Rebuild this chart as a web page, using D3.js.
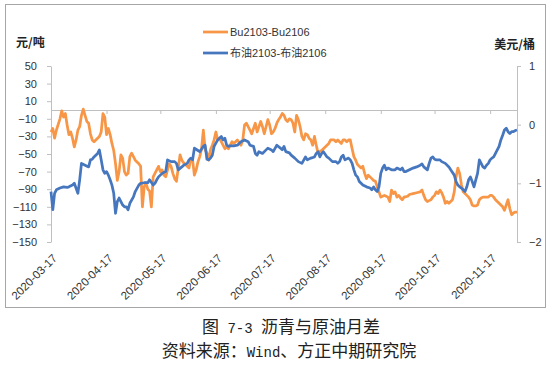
<!DOCTYPE html>
<html>
<head>
<meta charset="utf-8">
<script src="https://cdn.jsdelivr.net/npm/d3@7"></script>
<style>
  body { margin: 0; background: #fff; }
  svg { display: block; }
</style>
</head>
<body>
<div id="chart"></div>
<script>
// Bu2103-Bu2106 (元/吨), left axis
const bitumenDates = [
  '03-17','03-18','03-19','03-20','03-22','03-23','03-24','03-25','03-26','03-27','03-28','03-29','03-30','03-31',
  '04-01','04-02','04-03','04-04','04-05','04-06','04-07','04-08','04-09','04-10','04-11','04-12','04-13','04-14','04-15',
  '04-16','04-17','04-18','04-19','04-20','04-21','04-22','04-23','04-24','04-25','04-26','04-27','04-28','04-29','04-30',
  '05-01','05-02','05-03','05-04','05-05','05-06','05-07','05-08','05-09','05-10','05-11','05-12','05-13','05-14','05-15',
  '05-16','05-17','05-18','05-19','05-20','05-21','05-22','05-23','05-24','05-25','05-26','05-27','05-28','05-29','05-30','05-31',
  '06-01','06-02','06-03','06-04','06-05','06-06','06-07','06-08','06-09','06-10','06-11','06-12','06-13','06-14','06-15',
  '06-16','06-17','06-18','06-19','06-20','06-21','06-22','06-23','06-24','06-25','06-26','06-27','06-28','06-29','06-30',
  '07-01','07-02','07-03','07-04','07-05','07-06','07-07','07-08','07-09','07-10','07-11','07-12','07-13','07-14','07-15',
  '07-16','07-17','07-18','07-19','07-20','07-21','07-22','07-23','07-24','07-25','07-26','07-27','07-28','07-29','07-30','07-31',
  '08-01','08-02','08-03','08-04','08-05','08-06','08-07','08-08','08-09','08-10','08-11','08-12','08-13','08-14','08-15',
  '08-16','08-17','08-19','08-20','08-22','08-23','08-24','08-25','08-26','08-27','08-28','08-29','08-30','08-31',
  '09-01','09-02','09-03','09-04','09-05','09-06','09-07','09-08','09-09','09-10','09-11','09-12','09-13','09-14','09-15',
  '09-16','09-17','09-18','09-19','09-20','09-21','09-22','09-23','09-24','09-25','09-26','09-27','09-28','09-29','09-30',
  '10-02','10-03','10-05','10-07','10-09','10-10','10-11','10-12','10-13','10-14','10-15',
  '10-16','10-17','10-18','10-19','10-20','10-21','10-22','10-23','10-24','10-25','10-26','10-27','10-28','10-29','10-30','10-31',
  '11-01','11-02','11-03','11-04','11-05','11-06','11-07','11-08','11-09','11-10','11-11','11-12','11-13','11-14',
  '11-16','11-17','11-18','11-19','11-20','11-21','11-22','11-23','11-24','11-25','11-26','11-27','11-28','11-29','11-30',
  '12-01','12-02'
];
const bitumenSpread = [
  -25,-21,-32,-23,-10,-1,-8,-4,-17,-28,-25,-32,-42,-34,
  -23,-19,-6,1,-6,-13,-15,-27,-34,-36,-34,-32,-30,-25,-4,
  -8,-28,-21,-28,-38,-46,-61,-80,-70,-51,-55,-70,-74,-72,-53,
  -49,-53,-57,-59,-61,-64,-110,-87,-83,-90,-92,-110,-76,-72,-68,
  -64,-70,-68,-74,-76,-68,-61,-64,-72,-78,-81,-66,-51,-57,-60,-62,
  -64,-66,-55,-57,-74,-68,-59,-53,-44,-23,-45,-49,-57,-45,-40,
  -34,-25,-34,-32,-36,-40,-44,-42,-44,-40,-36,-38,-36,-34,-37,
  -40,-34,-17,-15,-19,-23,-27,-21,-15,-25,-19,-13,-19,-27,-19,
  -11,-17,-27,-25,-21,-15,-11,-8,-4,-6,-11,-13,-10,-11,-15,-25,
  -6,-11,-19,-30,-34,-27,-28,-32,-34,-40,-30,-40,-49,-47,-46,
  -44,-42,-38,-34,-34,-36,-34,-36,-38,-34,-34,-36,-34,-34,
  -44,-53,-57,-62,-64,-66,-64,-72,-78,-74,-76,-78,-80,-81,-87,
  -93,-99,-98,-97,-98,-99,-104,-91,-95,-93,-99,-97,-100,-102,-99,
  -98,-96,-95,-94,-93,-91,-97,-102,-104,-103,-102,
  -99,-97,-93,-95,-91,-94,-99,-106,-104,-106,-104,-102,-93,-76,-66,-72,
  -85,-93,-95,-97,-99,-102,-108,-109,-109,-108,-102,-100,-99,-99,
  -99,-97,-97,-99,-102,-104,-106,-108,-110,-114,-108,-102,-112,-119,-117,
  -116,-116
];

// 布油2103-布油2106 (美元/桶), right axis
const brentDates = [
  '03-17','03-18','03-19','03-20','03-22','03-24','03-26','03-27','03-29','03-30',
  '04-01','04-02','04-03','04-05','04-07','04-08','04-09','04-10','04-12','04-13','04-14','04-15','04-16','04-17',
  '04-18','04-19','04-20','04-21','04-22','04-23','04-24','04-25','04-26','04-27','04-28','04-29','04-30',
  '05-02','05-03','05-05','05-06','05-08','05-10','05-11','05-13','05-14','05-15','05-16','05-18','05-20','05-21',
  '05-23','05-25','05-26','05-27','05-29','05-30',
  '06-01','06-02','06-03','06-04','06-05','06-07','06-08','06-10','06-11','06-12','06-13','06-14','06-15','06-16',
  '06-18','06-20','06-21','06-22','06-23','06-24','06-25','06-27','06-29',
  '07-01','07-03','07-05','07-06','07-08','07-09','07-10','07-11','07-13','07-15','07-16','07-18','07-19','07-21',
  '07-23','07-24','07-25','07-26','07-28','07-29','07-31',
  '08-02','08-04','08-06','08-07','08-09','08-11','08-12','08-13','08-14','08-15','08-16','08-18','08-19','08-20',
  '08-21','08-23','08-24','08-25','08-26','08-27','08-28','08-30','08-31',
  '09-01','09-02','09-03','09-04','09-05','09-06','09-07','09-09','09-11','09-12','09-13','09-14','09-15','09-16',
  '09-17','09-18','09-19','09-20','09-21','09-23','09-25','09-26','09-28','09-29','09-30',
  '10-01','10-03','10-05','10-07','10-09','10-10','10-11','10-13','10-14','10-15','10-16','10-17','10-18','10-20',
  '10-21','10-23','10-25','10-26','10-28','10-29','10-30','10-31',
  '11-01','11-02','11-03','11-04','11-05','11-06','11-07','11-08','11-09','11-10','11-11','11-12','11-13','11-14',
  '11-15','11-16','11-17','11-18','11-19','11-20','11-21','11-22','11-23','11-24','11-25','11-26','11-27','11-28',
  '11-29','11-30','12-01','12-02'
];
const brentSpread = [
  -1.14,-1.45,-1.17,-1.11,-1.08,-1.06,-1.07,-1.06,-1.03,-1.00,
  -1.17,-0.94,-0.66,-0.69,-0.72,-0.60,-0.59,-0.55,-0.49,-0.43,-0.60,-0.77,-0.83,-0.80,
  -0.86,-0.94,-1.03,-1.17,-1.51,-1.31,-1.25,-1.31,-1.37,-1.40,-1.40,-1.45,-1.34,
  -1.23,-1.14,-1.03,-1.00,-0.99,-0.99,-0.94,-1.03,-1.00,-0.94,-0.89,-0.83,-0.80,-0.60,
  -0.63,-0.63,-0.66,-0.77,-0.72,-0.69,
  -0.66,-0.60,-0.57,-0.60,-0.40,-0.44,-0.46,-0.37,-0.35,-0.59,-0.60,-0.57,-0.52,-0.37,
  -0.26,-0.20,-0.26,-0.23,-0.35,-0.37,-0.36,-0.36,-0.35,
  -0.29,-0.26,-0.29,-0.35,-0.37,-0.49,-0.52,-0.46,-0.49,-0.43,-0.40,-0.43,-0.46,-0.35,
  -0.40,-0.43,-0.37,-0.46,-0.48,-0.52,-0.57,
  -0.63,-0.66,-0.55,-0.60,-0.57,-0.55,-0.49,-0.46,-0.55,-0.49,-0.46,-0.55,-0.57,-0.60,
  -0.63,-0.63,-0.66,-0.63,-0.55,-0.52,-0.60,-0.57,-0.60,
  -0.66,-0.77,-0.86,-0.89,-0.97,-1.00,-1.03,-1.06,-1.08,-1.11,-1.06,-1.11,-1.14,-1.06,
  -0.83,-0.74,-0.69,-0.77,-0.74,-0.77,-0.77,-0.74,-0.77,-0.74,-0.80,
  -0.80,-0.77,-0.74,-0.72,-0.69,-0.67,-0.72,-0.77,-0.66,-0.57,-0.55,-0.59,-0.60,-0.60,
  -0.63,-0.66,-0.72,-0.77,-0.86,-0.97,-1.03,-1.06,
  -1.08,-1.11,-1.14,-1.06,-0.94,-0.89,-0.97,-1.06,-0.94,-0.83,-0.60,-0.66,-0.72,-0.74,
  -0.69,-0.66,-0.60,-0.57,-0.55,-0.49,-0.43,-0.37,-0.26,-0.18,-0.09,-0.06,-0.12,-0.15,
  -0.12,-0.12,-0.10,-0.09
];

const xTickLabels = ['2020-03-17','2020-04-17','2020-05-17','2020-06-17','2020-07-17',
                     '2020-08-17','2020-09-17','2020-10-17','2020-11-17'];
const leftTicks = [50, 30, 10, -10, -30, -50, -70, -90, -110, -130, -150];
const rightTicks = [1, 0, -1, -2];
const seriesNames = ['Bu2103-Bu2106', '布油2103-布油2106'];
const seriesColors = ['#F79646', '#4677BE'];

const width = 551, height = 382;
const parseDay = d3.timeParse('%Y-%m-%d');
const toDate = s => parseDay('2020-' + s);

const svg = d3.select('#chart')
  .append('svg')
  .attr('width', width)
  .attr('height', height)
  .style('font-family', '"Liberation Sans", Arial, "Noto Sans CJK SC", sans-serif');

svg.append('rect')
  .attr('width', width)
  .attr('height', height)
  .attr('fill', '#fff');

// chart frame
svg.append('rect')
  .attr('x', 5.5)
  .attr('y', 4.5)
  .attr('width', 540)
  .attr('height', 303)
  .attr('fill', '#fff')
  .attr('stroke', '#a6a6a6')
  .attr('stroke-width', 1);

const x = d3.scaleTime()
  .domain([parseDay('2020-03-17'), parseDay('2020-12-02')])
  .range([51, 517]);
const yLeft = d3.scaleLinear().domain([-150, 50]).range([242, 66]);
const yRight = d3.scaleLinear().domain([-2, 1]).range([242, 66]);

const axisColor = '#bfbfbf';
const textColor = '#333';

function styleAxis(g) {
  g.select('.domain').attr('stroke', axisColor);
  g.selectAll('.tick line').attr('stroke', axisColor);
  g.selectAll('.tick text')
    .attr('fill', textColor)
    .style('font-size', '11px')
    .style('font-family', '"Liberation Sans", Arial, sans-serif');
}

// left axis
svg.append('g')
  .attr('transform', 'translate(51,0)')
  .call(d3.axisLeft(yLeft).tickValues(leftTicks).tickSize(4).tickSizeOuter(0).tickPadding(10))
  .call(styleAxis);

// right axis
svg.append('g')
  .attr('transform', 'translate(517,0)')
  .call(d3.axisRight(yRight).tickValues(rightTicks).tickFormat(d3.format('d'))
    .tickSize(4).tickSizeOuter(0).tickPadding(8))
  .call(styleAxis);

// category axis at zero of left axis
const xTicks = xTickLabels.map(s => parseDay(s));
svg.append('g')
  .attr('transform', `translate(0,${yLeft(0)})`)
  .call(d3.axisBottom(x).tickValues(xTicks).tickSize(4).tickSizeOuter(0).tickFormat(''))
  .call(styleAxis);

// rotated date labels at the bottom
svg.append('g')
  .selectAll('text')
  .data(xTicks)
  .enter()
  .append('text')
  .attr('transform', d => `translate(${x(d) + 4},256) rotate(-45)`)
  .attr('text-anchor', 'end')
  .attr('dy', '0.35em')
  .attr('fill', textColor)
  .style('font-size', '11.5px')
  .text((d, i) => xTickLabels[i]);

// series lines
const bitumen = bitumenDates.map((s, i) => ({ date: toDate(s), value: bitumenSpread[i] }));
const brent = brentDates.map((s, i) => ({ date: toDate(s), value: brentSpread[i] }));

svg.append('path')
  .datum(bitumen)
  .attr('fill', 'none')
  .attr('stroke', seriesColors[0])
  .attr('stroke-width', 2.75)
  .attr('stroke-linejoin', 'round')
  .attr('d', d3.line().x(d => x(d.date)).y(d => yLeft(d.value)));

svg.append('path')
  .datum(brent)
  .attr('fill', 'none')
  .attr('stroke', seriesColors[1])
  .attr('stroke-width', 2.75)
  .attr('stroke-linejoin', 'round')
  .attr('d', d3.line().x(d => x(d.date)).y(d => yRight(d.value)));

// unit labels
svg.append('text')
  .attr('x', 16)
  .attr('y', 43)
  .attr('dy', '0.35em')
  .attr('fill', '#222')
  .style('font-size', '12px')
  .style('font-weight', 'bold')
  .style('font-family', '"Noto Sans CJK SC", sans-serif')
  .text('元/吨');

svg.append('text')
  .attr('x', 535)
  .attr('y', 45)
  .attr('dy', '0.35em')
  .attr('text-anchor', 'end')
  .attr('fill', '#222')
  .style('font-size', '12px')
  .style('font-weight', 'bold')
  .style('font-family', '"Noto Sans CJK SC", sans-serif')
  .text('美元/桶');

// legend
const legend = svg.append('g').attr('transform', 'translate(203,32)');
seriesNames.forEach((name, i) => {
  const row = legend.append('g').attr('transform', `translate(0,${i * 21})`);
  row.append('line')
    .attr('x1', 0).attr('x2', 25)
    .attr('y1', 0).attr('y2', 0)
    .attr('stroke', seriesColors[i])
    .attr('stroke-width', 2.75);
  row.append('text')
    .attr('x', 27)
    .attr('dy', '0.35em')
    .attr('fill', textColor)
    .style('font-size', '11px')
    .style('font-family', '"Liberation Sans", Arial, "Noto Sans CJK SC", sans-serif')
    .text(name);
});

// caption below the chart
const caption = svg.append('g')
  .attr('fill', '#222')
  .style('font-family', '"Noto Sans CJK SC", sans-serif')
  .style('font-size', '17px');

const cap1 = caption.append('text')
  .attr('x', 291)
  .attr('y', 333)
  .attr('text-anchor', 'middle');
cap1.append('tspan').text('图');
cap1.append('tspan').style('font-family', '"Liberation Mono", monospace').style('font-size', '14px')
  .attr('xml:space', 'preserve').text(' 7-3 ');
cap1.append('tspan').text('沥青与原油月差');

const cap2 = caption.append('text')
  .attr('x', 289)
  .attr('y', 357)
  .attr('text-anchor', 'middle');
cap2.append('tspan').text('资料来源：');
cap2.append('tspan').style('font-family', '"Liberation Mono", monospace').style('font-size', '14px').text('Wind');
cap2.append('tspan').text('、方正中期研究院');
</script>
</body>
</html>
